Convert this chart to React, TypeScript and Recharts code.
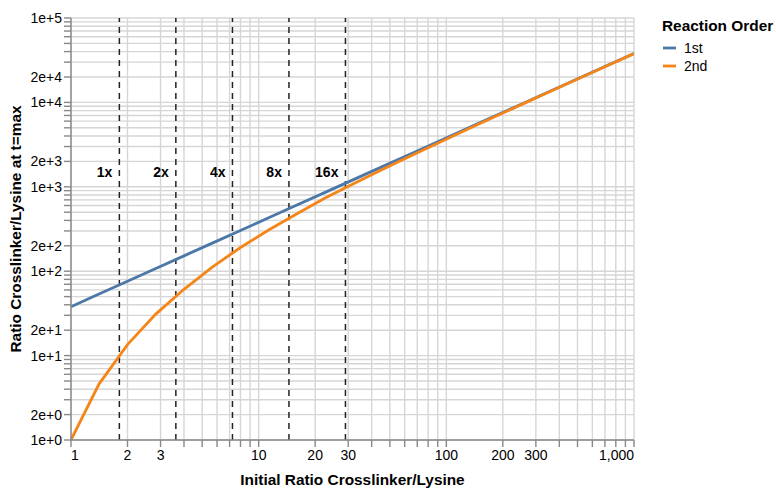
import React from "react"
import { LineChart, Line, XAxis, YAxis, CartesianGrid, ReferenceLine, Legend } from "recharts"

// initial ratio crosslinker/lysine (x) and ratio at t=max for each reaction order
const ratio = [1, 1.41, 2, 2.83, 4, 5.66, 8, 11.3, 16, 22.6, 32, 45, 64, 90, 128, 181, 256, 362, 512, 724, 1000]
const firstOrder = [38, 53.6, 76, 107.5, 152, 215, 304, 429, 608, 859, 1216, 1710, 2432, 3420, 4864, 6878, 9728, 13756, 19456, 27512, 38000]
const secondOrder = [1, 4.6, 13.5, 31, 61, 112, 191, 308, 480, 735, 1090, 1585, 2305, 3290, 4740, 6750, 9600, 13630, 19330, 27380, 37870]

const cutoffs = [1.81, 3.62, 7.25, 14.5, 29]
const cutoffLabels = ["1x", "2x", "4x", "8x", "16x"]

const xTicks = [1, 2, 3, 4, 5, 6, 7, 8, 9, 10, 20, 30, 40, 50, 60, 70, 80, 90, 100, 200, 300, 400, 500, 600, 700, 800, 900, 1000]
const xLabels = [1, 2, 3, 10, 20, 30, 100, 200, 300, 1000]
const yTicks = [
  1, 2, 3, 4, 5, 6, 7, 8, 9,
  10, 20, 30, 40, 50, 60, 70, 80, 90,
  100, 200, 300, 400, 500, 600, 700, 800, 900,
  1000, 2000, 3000, 4000, 5000, 6000, 7000, 8000, 9000,
  10000, 20000, 30000, 40000, 50000, 60000, 70000, 80000, 90000,
  100000,
]
const yLabels = [1, 2, 10, 20, 100, 200, 1000, 2000, 10000, 20000, 100000]

const series = [
  { key: "first", name: "1st", color: "#4c78a8" },
  { key: "second", name: "2nd", color: "#f58518" },
]

const data = ratio.map((x, i) => ({ x, first: firstOrder[i], second: secondOrder[i] }))

const FONT = "'Liberation Sans', Arial, Helvetica, sans-serif"

const XTick = (props: any) => {
  const { x, y, payload } = props
  const v = payload.value
  if (!xLabels.includes(v)) return null
  const anchor = v === 1 ? "start" : v === 1000 ? "end" : "middle"
  return (
    <text x={x} y={y + 10} textAnchor={anchor} fontSize={14} fontFamily={FONT} fill="#000">
      {v.toLocaleString("en-US")}
    </text>
  )
}

const YTick = (props: any) => {
  const { x, y, payload } = props
  const v = payload.value
  if (!yLabels.includes(v)) return null
  return (
    <text x={x} y={y + 5} textAnchor="end" fontSize={14} fontFamily={FONT} fill="#000">
      {v.toExponential(0)}
    </text>
  )
}

const CutLabel = (props: any) => {
  const { viewBox, text } = props
  return (
    <text x={viewBox.x - 7} y={177} textAnchor="end" fontSize={14} fontWeight="bold" fontFamily={FONT} fill="#000">
      {text}
    </text>
  )
}

const LegendBox = () => (
  <svg width={121} height={80} style={{ display: "block" }}>
    <text x={7} y={30.5} fontSize={15.4} fontWeight="bold" fontFamily={FONT} fill="#000">
      Reaction Order
    </text>
    {series.map((s, i) => (
      <g key={s.key}>
        <line x1={8} x2={21} y1={48 + i * 18} y2={48 + i * 18} stroke={s.color} strokeWidth={2.8} />
        <text x={29} y={53 + i * 18} fontSize={14} fontFamily={FONT} fill="#000">
          {s.name}
        </text>
      </g>
    ))}
  </svg>
)

export default function App() {
  return (
    <div style={{ position: "absolute", left: 0, top: 0, width: 776, height: 491, background: "#fff" }}>
      <LineChart width={776} height={491} data={data} margin={{ top: 18, right: 142, bottom: 0, left: 0 }}>
        <CartesianGrid stroke="#d6d6d6" strokeWidth={1.4} />
        <XAxis
          dataKey="x"
          type="number"
          scale="log"
          domain={[1, 1000]}
          ticks={xTicks}
          interval={0}
          tick={<XTick />}
          tickSize={7}
          tickMargin={3}
          height={51}
          stroke="#888"
          strokeWidth={1.4}
          allowDataOverflow
          label={{
            value: "Initial Ratio Crosslinker/Lysine",
            position: "insideBottom",
            offset: 6,
            style: { fontSize: 15.4, fontWeight: "bold", fontFamily: FONT, fill: "#000" },
          }}
        />
        <YAxis
          type="number"
          scale="log"
          domain={[1, 100000]}
          ticks={yTicks}
          interval={0}
          tick={<YTick />}
          tickSize={7}
          tickMargin={2}
          width={71}
          stroke="#888"
          strokeWidth={1.4}
          allowDataOverflow
          label={{
            value: "Ratio Crosslinker/Lysine at t=max",
            angle: -90,
            position: "insideLeft",
            offset: 16,
            style: { fontSize: 15.4, fontWeight: "bold", fontFamily: FONT, fill: "#000", textAnchor: "middle" },
          }}
        />
        {cutoffs.map((c, i) => (
          <ReferenceLine
            key={c}
            x={c}
            stroke="#222"
            strokeWidth={1.5}
            strokeDasharray="6 5"
            label={<CutLabel text={cutoffLabels[i]} />}
          />
        ))}
        {series.map((s) => (
          <Line
            key={s.key}
            type="linear"
            dataKey={s.key}
            name={s.name}
            stroke={s.color}
            strokeWidth={2.8}
            dot={false}
            isAnimationActive={false}
          />
        ))}
        <Legend
          layout="vertical"
          align="center"
          verticalAlign="middle"
          content={<LegendBox />}
          wrapperStyle={{ left: 655, top: 0, width: 121 }}
        />
      </LineChart>
    </div>
  )
}
